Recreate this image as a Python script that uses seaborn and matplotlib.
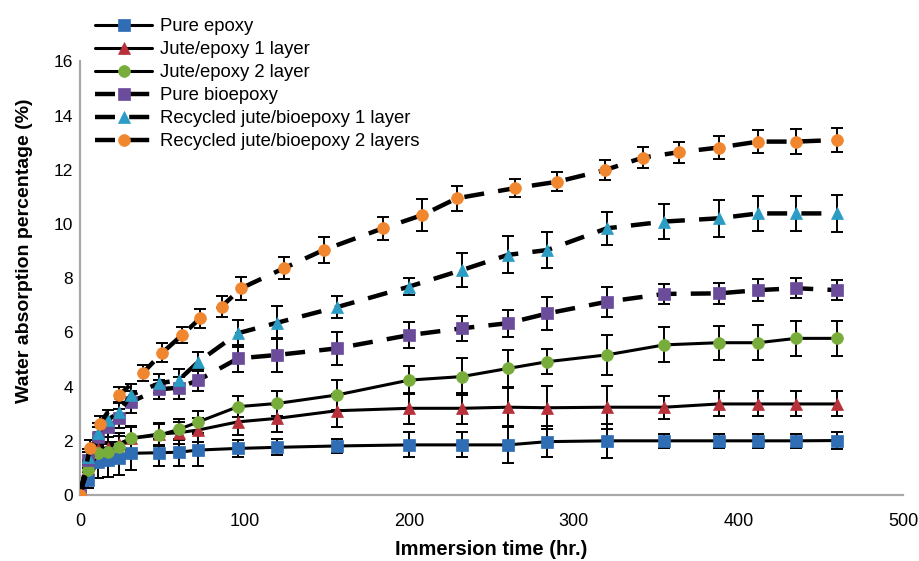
import numpy as np
import pandas as pd
import seaborn as sns
import matplotlib.pyplot as plt

# immersion times (hr.)
t_main = [0, 5, 11, 17, 24, 31, 48, 60, 72, 96, 120, 156, 200, 232, 260, 284, 320, 355, 388, 412, 435, 460]
t_orange = [0, 6, 12, 24, 38, 50, 62, 73, 86, 98, 124, 148, 184, 208, 229, 264, 290, 319, 342, 364, 388, 412, 435, 460]

pure_epoxy = [0, 0.55, 1.23, 1.28, 1.35, 1.54, 1.56, 1.58, 1.66, 1.72, 1.76, 1.81, 1.85, 1.85, 1.85, 1.97, 2.0, 2.0, 2.0, 2.0, 2.0, 2.01]
pure_epoxy_err = [0, 0.3, 0.6, 0.6, 0.6, 0.6, 0.5, 0.5, 0.58, 0.3, 0.3, 0.25, 0.46, 0.46, 0.66, 0.58, 0.62, 0.25, 0.25, 0.25, 0.25, 0.3]

jute_1 = [0, 1.0, 1.7, 1.75, 1.9, 2.1, 2.25, 2.3, 2.4, 2.7, 2.83, 3.11, 3.2, 3.2, 3.24, 3.22, 3.24, 3.24, 3.36, 3.36, 3.36, 3.36]
jute_1_err = [0, 0.3, 0.4, 0.4, 0.4, 0.4, 0.4, 0.4, 0.45, 0.5, 0.5, 0.6, 0.58, 0.58, 0.7, 0.8, 0.8, 0.43, 0.46, 0.46, 0.46, 0.46]

jute_2 = [0, 0.92, 1.54, 1.6, 1.78, 2.09, 2.21, 2.42, 2.7, 3.26, 3.38, 3.69, 4.24, 4.37, 4.67, 4.92, 5.17, 5.54, 5.62, 5.62, 5.78, 5.78]
jute_2_err = [0, 0.3, 0.35, 0.35, 0.4, 0.45, 0.4, 0.4, 0.4, 0.38, 0.45, 0.55, 0.52, 0.68, 0.68, 0.46, 0.74, 0.65, 0.62, 0.65, 0.65, 0.65]

pure_bio = [0, 1.3, 2.15, 2.5, 2.83, 3.44, 3.9, 3.96, 4.24, 5.04, 5.17, 5.41, 5.9, 6.15, 6.34, 6.7, 7.13, 7.42, 7.44, 7.56, 7.63, 7.56]
pure_bio_err = [0, 0.3, 0.35, 0.35, 0.35, 0.4, 0.35, 0.4, 0.4, 0.49, 0.63, 0.6, 0.49, 0.47, 0.5, 0.62, 0.55, 0.37, 0.4, 0.4, 0.37, 0.37]

rec_1 = [0, 1.4, 2.3, 2.77, 3.07, 3.69, 4.12, 4.24, 4.92, 5.97, 6.36, 6.93, 7.69, 8.3, 8.86, 9.04, 9.84, 10.09, 10.21, 10.39, 10.39, 10.39]
rec_1_err = [0, 0.3, 0.35, 0.35, 0.35, 0.4, 0.35, 0.4, 0.35, 0.49, 0.6, 0.41, 0.31, 0.63, 0.68, 0.65, 0.62, 0.65, 0.68, 0.65, 0.65, 0.68]

rec_2 = [0, 1.72, 2.62, 3.69, 4.49, 5.25, 5.9, 6.52, 6.95, 7.63, 8.37, 9.04, 9.84, 10.33, 10.95, 11.32, 11.56, 11.99, 12.45, 12.65, 12.82, 13.04, 13.04, 13.1]
rec_2_err = [0, 0.3, 0.3, 0.3, 0.3, 0.35, 0.3, 0.34, 0.4, 0.43, 0.4, 0.49, 0.42, 0.58, 0.47, 0.34, 0.35, 0.37, 0.4, 0.39, 0.42, 0.43, 0.46, 0.46]

labels = ["Pure epoxy", "Jute/epoxy 1 layer", "Jute/epoxy 2 layer",
          "Pure bioepoxy", "Recycled jute/bioepoxy 1 layer", "Recycled jute/bioepoxy 2 layers"]
colors = ["#2F6DB5", "#B8313A", "#78AD3C", "#6B4C9A", "#2B9CC4", "#F0862E"]
markers = ["s", "^", "o", "s", "^", "o"]

series = [
    (t_main, pure_epoxy, pure_epoxy_err),
    (t_main, jute_1, jute_1_err),
    (t_main, jute_2, jute_2_err),
    (t_main, pure_bio, pure_bio_err),
    (t_main, rec_1, rec_1_err),
    (t_orange, rec_2, rec_2_err),
]

sns.set_style("white")
fonts = ["Liberation Sans", "DejaVu Sans"]
fig, ax = plt.subplots(figsize=(9.19, 5.61), dpi=100)
fig.subplots_adjust(left=0.087, right=0.9826, bottom=0.1176, top=0.8906)

for i, (t, v, e) in enumerate(series):
    df = pd.DataFrame({"time": t, "value": v, "err": e})
    dashed = i >= 3
    ax.errorbar(df["time"], df["value"], yerr=df["err"], fmt="none",
                ecolor="black", elinewidth=1.4, capsize=4, capthick=1.4, zorder=2)
    sns.lineplot(data=df, x="time", y="value", ax=ax, color="black",
                 linewidth=3.2 if dashed else 2.2,
                 linestyle=(0, (4.5, 3.2)) if dashed else "-",
                 marker=markers[i], markersize=8.5 if markers[i] != "^" else 9,
                 markerfacecolor=colors[i], markeredgecolor=colors[i],
                 markeredgewidth=0.5, label=labels[i], zorder=3)

ax.set_xlim(0, 500)
ax.set_ylim(0, 16)
ax.set_xticks(np.arange(0, 501, 100))
ax.set_yticks(np.arange(0, 17, 2))
ax.tick_params(axis="y", length=0, pad=5, labelcolor="black")
ax.tick_params(axis="x", length=0, pad=13, labelcolor="black")
for lab in ax.get_yticklabels():
    lab.set_fontsize(12.5)
    lab.set_family(fonts)
for lab in ax.get_xticklabels():
    lab.set_fontsize(13)
    lab.set_family(fonts)

ax.set_xlabel("Immersion time (hr.)", fontsize=14.5, fontweight="bold",
              family=fonts, color="black")
ax.set_ylabel("Water absorption percentage (%)", fontsize=14, fontweight="bold",
              family=fonts, color="black")
ax.xaxis.set_label_coords(0.5, -0.103)
ax.yaxis.set_label_coords(-0.057, 0.563)

for side in ["top", "right"]:
    ax.spines[side].set_visible(False)
for side in ["left", "bottom"]:
    ax.spines[side].set_color("#A8A8A8")
    ax.spines[side].set_linewidth(1.6)

ax.legend(loc="upper left", bbox_to_anchor=(0.0892, 0.991), bbox_transform=fig.transFigure,
          frameon=False, handlelength=3.1, handletextpad=0.45, labelspacing=0.33,
          numpoints=1, borderaxespad=0.3, labelcolor="black",
          prop={"family": fonts, "size": 13.3})

fig.savefig("out.png", dpi=100)
